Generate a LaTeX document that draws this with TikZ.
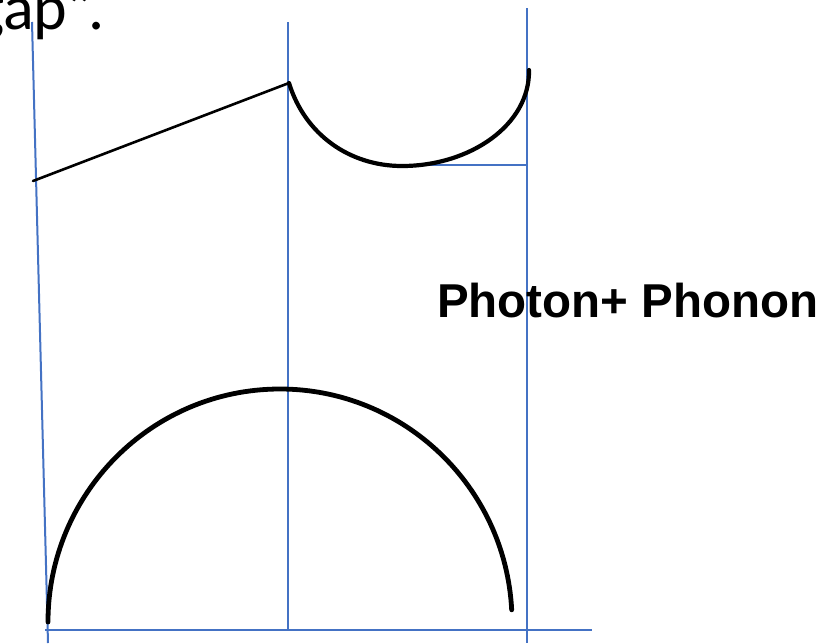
\documentclass[tikz,border=0pt]{standalone}
\usepackage{fontspec}
\setmainfont{Liberation Sans}
\newfontfamily\calib{Carlito}
\definecolor{axisblue}{RGB}{68,114,196}
\tikzset{
  axisline/.style={draw=axisblue, line width=2pt},
  thinblack/.style={draw=black, line width=2.6pt, line cap=round},
  thickblack/.style={draw=black, line width=4.8pt, line cap=round},
  labeltext/.style={inner sep=0pt, font=\fontsize{47.5}{52}\selectfont\bfseries},
  fragtext/.style={inner sep=0pt, font=\calib\fontsize{64}{66}\selectfont}
}
\begin{document}
\begin{tikzpicture}[x=1pt,y=-1pt]
\useasboundingbox (0,0) rectangle (832,643);
\clip (0,0) rectangle (832,643);
\fill[white] (0,0) rectangle (832,643);
% named points
\coordinate (ltop) at (32,22);
\coordinate (lbot) at (48,643);
\coordinate (mtop) at (288,22);
\coordinate (mbot) at (288,630);
\coordinate (rtop) at (527,8);
\coordinate (rbot) at (527,643);
\coordinate (hl) at (45,630);
\coordinate (hr) at (592,630);
\coordinate (sl) at (400,165);
\coordinate (sr) at (527,165);
\coordinate (a) at (33,181);
\coordinate (b) at (289,83);
\coordinate (c) at (402,166);
\coordinate (d) at (529,70);
\coordinate (e) at (48,622);
% text fragment at top left
\node[fragtext, anchor=base west] (frag) at (-26,29) {gap”.};
% blue guide lines
\draw[axisline] (ltop) -- (lbot);
\draw[axisline] (mtop) -- (mbot);
\draw[axisline] (rtop) -- (rbot);
\draw[axisline] (hl) -- (hr);
\draw[axisline] (sl) -- (sr);
% black curves
\draw[thinblack] (a) -- (b);
\draw[draw=black, line width=4.2pt, line cap=round] (b) .. controls (305,135) and (350,166) .. (c) .. controls (470,166) and (530,125) .. (d);
\draw[thickblack] (e) arc[start angle=180, end angle=357, x radius=232, y radius=233];
% label
\node[labeltext, anchor=base west] (lbl) at (437,317) {Photon+ Phonon};
\end{tikzpicture}
\end{document}
